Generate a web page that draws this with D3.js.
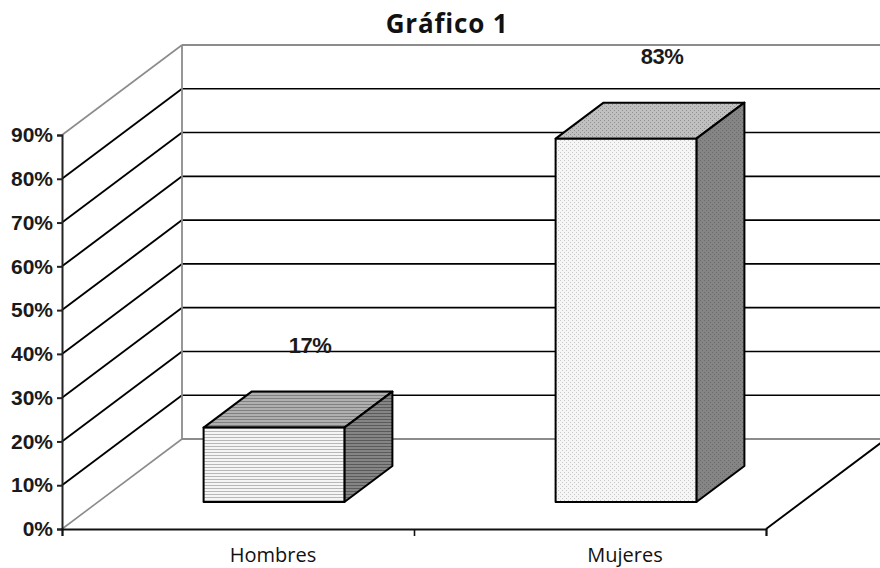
<!DOCTYPE html>
<html>
<head>
<meta charset="utf-8">
<script src="https://cdn.jsdelivr.net/npm/d3@7"></script>
<style>
  body { margin: 0; background: #fff; }
  svg { display: block; }
</style>
</head>
<body>
<div id="grafico"></div>
<script>
const categorias = ["Hombres", "Mujeres"];
const valores = [17, 83];
const etiquetas = ["17%", "83%"];
const ticksY = [0, 10, 20, 30, 40, 50, 60, 70, 80, 90];

const width = 880;
const height = 568;

// profundidad de la caja 3D
const prof = { dx: 120, dy: -90 };
const barraIni = 0.3;
const barraFin = 0.7;

const svg = d3
  .select("#grafico")
  .append("svg")
  .attr("width", width)
  .attr("height", height);

const y = d3.scaleLinear().domain([0, 90]).range([529, 135]);
const x = d3.scaleBand().domain(categorias).range([62, 766]);
const xTick = d3.scaleLinear().domain([0, categorias.length]).range([62, 766]);

const x0 = x.range()[0];
const x1 = x.range()[1];
const yBase = y(0);

// patrones de relleno
const defs = svg.append("defs");

function rayas(id, fondo, linea) {
  const p = defs
    .append("pattern")
    .attr("id", id)
    .attr("patternUnits", "userSpaceOnUse")
    .attr("width", 6)
    .attr("height", 3);
  p.append("rect").attr("width", 6).attr("height", 3).attr("fill", fondo);
  p.append("rect").attr("y", 2).attr("width", 6).attr("height", 1).attr("fill", linea);
}

function puntos(id, fondo, punto) {
  const p = defs
    .append("pattern")
    .attr("id", id)
    .attr("patternUnits", "userSpaceOnUse")
    .attr("width", 4)
    .attr("height", 4);
  p.append("rect").attr("width", 4).attr("height", 4).attr("fill", fondo);
  p.append("rect").attr("x", 0).attr("y", 0).attr("width", 1).attr("height", 1).attr("fill", punto);
  p.append("rect").attr("x", 2).attr("y", 2).attr("width", 1).attr("height", 1).attr("fill", punto);
}

rayas("h-frente", "#f5f5f5", "#b8b8b8");
rayas("h-techo", "#b0b0b0", "#808080");
rayas("h-lado", "#858585", "#5a5a5a");
puntos("m-frente", "#f6f6f6", "#c8c8c8");
puntos("m-techo", "#c0c0c0", "#909090");
puntos("m-lado", "#858585", "#6a6a6a");

const rellenos = [
  { frente: "url(#h-frente)", techo: "url(#h-techo)", lado: "url(#h-lado)" },
  { frente: "url(#m-frente)", techo: "url(#m-techo)", lado: "url(#m-lado)" },
];

const gris = "#8c8c8c";

// paredes
const paredes = svg.append("g");

// lineas de la pared izquierda
paredes
  .selectAll(".diag")
  .data(ticksY)
  .enter()
  .append("line")
  .attr("x1", x0)
  .attr("y1", (d) => y(d))
  .attr("x2", x0 + prof.dx)
  .attr("y2", (d) => y(d) + prof.dy)
  .attr("stroke", (d) => (d === 0 || d === 90 ? gris : "#000"))
  .attr("stroke-width", (d) => (d === 0 || d === 90 ? 1.6 : 1.9));

// lineas de la pared del fondo
paredes
  .selectAll(".horiz")
  .data(ticksY)
  .enter()
  .append("line")
  .attr("x1", x0 + prof.dx)
  .attr("y1", (d) => y(d) + prof.dy)
  .attr("x2", x1 + prof.dx)
  .attr("y2", (d) => y(d) + prof.dy)
  .attr("stroke", (d) => (d === 0 || d === 90 ? gris : "#000"))
  .attr("stroke-width", (d) => (d === 0 || d === 90 ? 1.8 : 1.6));

paredes
  .append("line")
  .attr("x1", x0 + prof.dx)
  .attr("y1", y(0) + prof.dy)
  .attr("x2", x0 + prof.dx)
  .attr("y2", y(90) + prof.dy)
  .attr("stroke", gris)
  .attr("stroke-width", 1.8);

// borde derecho del suelo
paredes
  .append("line")
  .attr("x1", x1)
  .attr("y1", yBase)
  .attr("x2", x1 + prof.dx)
  .attr("y2", yBase + prof.dy)
  .attr("stroke", "#000")
  .attr("stroke-width", 1.9);

// barras 3D
const datos = categorias.map((c, i) => ({ cat: c, valor: valores[i], etiqueta: etiquetas[i], i }));
const anchoBarra = x.bandwidth() * 0.4;

const barras = svg
  .selectAll(".barra")
  .data(datos)
  .enter()
  .append("g")
  .attr("class", "barra");

function punto(px, py, t) {
  return [px + prof.dx * t, py + prof.dy * t];
}

barras.each(function (d) {
  const g = d3.select(this);
  const xl = x(d.cat) + (x.bandwidth() - anchoBarra) / 2;
  const xr = xl + anchoBarra;
  const yv = y(d.valor);
  const linea = d3.line();

  const techo = [punto(xl, yv, barraIni), punto(xr, yv, barraIni), punto(xr, yv, barraFin), punto(xl, yv, barraFin)];
  const lado = [punto(xr, yv, barraIni), punto(xr, yv, barraFin), punto(xr, yBase, barraFin), punto(xr, yBase, barraIni)];
  const frente = [punto(xl, yv, barraIni), punto(xr, yv, barraIni), punto(xr, yBase, barraIni), punto(xl, yBase, barraIni)];

  [
    [techo, rellenos[d.i].techo],
    [lado, rellenos[d.i].lado],
    [frente, rellenos[d.i].frente],
  ].forEach(([pts, fill]) => {
    g.append("path")
      .attr("d", linea(pts) + "Z")
      .attr("fill", fill)
      .attr("stroke", "#000")
      .attr("stroke-width", 2)
      .attr("stroke-linejoin", "round");
  });
});

// etiquetas de valor
svg
  .selectAll(".valor")
  .data(datos)
  .enter()
  .append("text")
  .attr("x", (d) => x(d.cat) + x.bandwidth() / 2 + prof.dx * 0.6)
  .attr("y", (d) => y(d.valor) + prof.dy - 12)
  .attr("text-anchor", "middle")
  .style("font-family", "'Liberation Sans', Arial, sans-serif")
  .style("font-weight", "bold")
  .style("font-size", "22px")
  .style("letter-spacing", "-0.5px")
  .attr("fill", "#1a1a1a")
  .text((d) => d.etiqueta);

// eje Y
const ejeY = svg
  .append("g")
  .attr("transform", `translate(${x0},0)`)
  .call(
    d3
      .axisLeft(y)
      .tickValues(ticksY)
      .tickSize(5)
      .tickPadding(4)
      .tickFormat((d) => d + "%")
  );
ejeY.select(".domain").attr("stroke", "#222").attr("stroke-width", 2);
ejeY.selectAll(".tick line").attr("stroke", "#222").attr("stroke-width", 2);
ejeY
  .selectAll(".tick text")
  .style("font-family", "'Liberation Sans', Arial, sans-serif")
  .style("font-weight", "bold")
  .style("font-size", "21px")
  .attr("fill", "#1a1a1a");

// eje X
const ejeX = svg
  .append("g")
  .attr("transform", `translate(0,${yBase})`)
  .call(
    d3
      .axisBottom(xTick)
      .tickValues(d3.range(categorias.length + 1))
      .tickSize(7)
      .tickFormat("")
  );
ejeX.select(".domain").attr("stroke", "#111").attr("stroke-width", 1.9);
ejeX.selectAll(".tick line").attr("stroke", "#111").attr("stroke-width", 1.6);

svg
  .selectAll(".cat")
  .data(categorias)
  .enter()
  .append("text")
  .attr("x", (d) => x(d) + x.bandwidth() / 2 + 35)
  .attr("y", 562)
  .attr("text-anchor", "middle")
  .style("font-family", "'Open Sans', sans-serif")
  .style("font-size", "20px")
  .attr("fill", "#111")
  .text((d) => d);

// titulo
svg
  .append("text")
  .attr("x", 447)
  .attr("y", 33)
  .attr("text-anchor", "middle")
  .style("font-family", "'Open Sans', sans-serif")
  .style("font-weight", "bold")
  .style("font-size", "26px")
  .style("letter-spacing", "0.8px")
  .attr("fill", "#111")
  .text("Gráfico 1");
</script>
</body>
</html>
